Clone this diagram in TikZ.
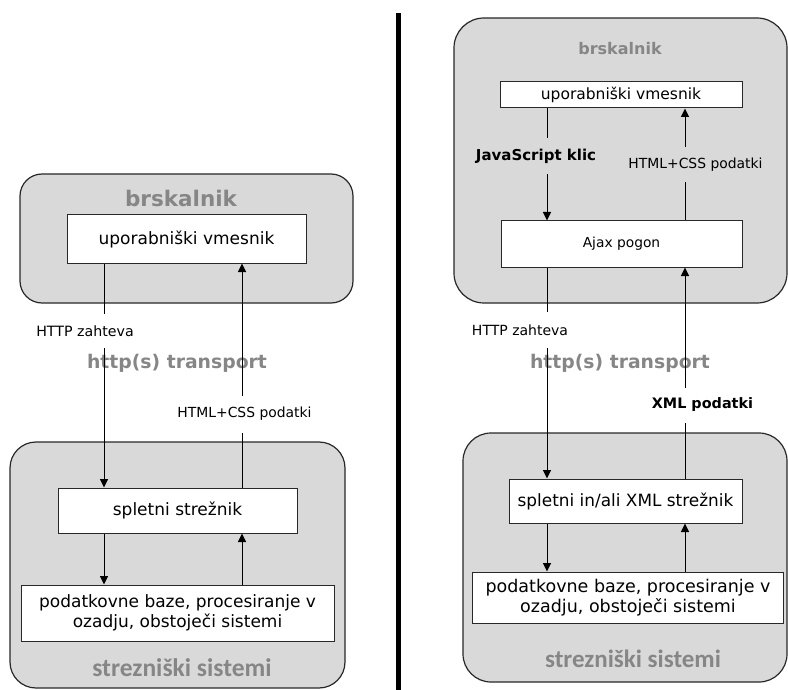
\documentclass[tikz,border=0pt]{standalone}
\usepackage{fontspec}
\setmainfont{DejaVu Sans}
\newfontfamily\carlito{Carlito}
\usetikzlibrary{arrows.meta}
\definecolor{panel}{RGB}{217,217,217}
\definecolor{titlegray}{RGB}{134,134,134}
\definecolor{edge}{RGB}{40,40,40}

\begin{document}
\begin{tikzpicture}[x=1pt,y=-1pt,
  container/.style={draw=edge, line width=1.2pt, fill=panel, rounded corners=#1, inner sep=0pt},
  container/.default=24pt,
  box/.style={draw=edge, line width=1pt, fill=white, inner sep=0pt, align=center},
  flow/.style={draw=black, line width=1pt, -{Triangle[length=8.5pt,width=8pt]}},
  tag/.style={fill=white, inner xsep=2pt, inner ysep=0pt},
  gtag/.style={tag, fill=panel},
  title/.style={text=titlegray, anchor=base, inner sep=0pt},
  fs/.style={font=\fontsize{#1}{#1}\selectfont},
  fb/.style={font=\fontsize{#1}{#1}\selectfont\bfseries},
  fc/.style={font=\fontsize{#1}{#1}\selectfont\carlito\bfseries}
]
\useasboundingbox (0,0) rectangle (788,690);

% separator between the two architectures
\coordinate (divtop) at (398,13);
\coordinate (divbot) at (398,690);
\draw[line width=5pt] (divtop) -- (divbot);

% ---------------- classic web application ----------------
\node[container=22pt, minimum width=333pt, minimum height=129pt] (lbrowser) at (186.5,238.5) {};
\node[container=26pt, minimum width=335pt, minimum height=246pt] (lserver) at (177.5,565) {};

\node[title, fb=21.5] (ltitle) at (181,207) {brskalnik};
\node[title, fb=18.8] (ltransport) at (177,368) {http(s) transport};
\node[title, fc=25.5] (lsys) at (182,676) {strezniški sistemi};

\node[box, fs=17, minimum width=239pt, minimum height=48pt] (lui) at (186.5,239) {uporabniški vmesnik};
\node[box, fs=17, minimum width=239pt, minimum height=45pt] (lweb) at (177.5,510.5) {spletni strežnik};
\node[box, font=\fontsize{17}{20}\selectfont, minimum width=313pt, minimum height=56pt] (ldb) at (177.5,613)
  {podatkovne baze, procesiranje v\\ozadju, obstoječi sistemi};

\coordinate (lxa) at (104,0);
\coordinate (lxb) at (242,0);
\draw[flow] (lui.south -| lxa) -- (lweb.north -| lxa);
\draw[flow] (lweb.south -| lxa) -- (ldb.north -| lxa);
\draw[flow] (ldb.north -| lxb) -- (lweb.south -| lxb);
\draw[flow] (lweb.north -| lxb) -- (lui.south -| lxb);

\node[tag, fs=14.2, minimum height=34pt] (lreq) at (85,331) {HTTP zahteva};
\node[tag, fs=13.9, minimum height=37pt] (lresp) at (244.5,414) {HTML+CSS podatki};

% ---------------- Ajax web application ----------------
\node[container=30pt, minimum width=333pt, minimum height=285pt] (rbrowser) at (620.5,160.5) {};
\node[container=28pt, minimum width=324pt, minimum height=249pt] (rserver) at (625,557.5) {};

\node[title, fb=16] (rtitle) at (620,55) {brskalnik};
\node[title, fb=18.8] (rtransport) at (620,368) {http(s) transport};
\node[title, fc=25] (rsys) at (633,667) {strezniški sistemi};

\node[box, fs=15.5, minimum width=242pt, minimum height=26pt] (rui) at (621,95) {uporabniški vmesnik};
\node[box, fs=13.8, minimum width=241pt, minimum height=46pt] (rajax) at (621.5,244) {Ajax pogon};
\node[box, fs=16.9, minimum width=233pt, minimum height=44pt] (rweb) at (625.5,501) {spletni in/ali XML strežnik};
\node[box, font=\fontsize{17.5}{20}\selectfont, minimum width=311pt, minimum height=51pt] (rdb) at (628,597.5)
  {podatkovne baze, procesiranje v\\ozadju, obstoječi sistemi};

\coordinate (rxa) at (547,0);
\coordinate (rxb) at (685,0);
\draw[flow] (rui.south -| rxa) -- (rajax.north -| rxa);
\draw[flow] (rajax.south -| rxa) -- (rweb.north -| rxa);
\draw[flow] (rweb.south -| rxa) -- (rdb.north -| rxa);
\draw[flow] (rdb.north -| rxb) -- (rweb.south -| rxb);
\draw[flow] (rweb.north -| rxb) -- (rajax.south -| rxb);
\draw[flow] (rajax.north -| rxb) -- (rui.south -| rxb);

\node[gtag, fb=15, minimum height=36pt] (rcall) at (536,156) {JavaScript klic};
\node[gtag, fs=13.9, minimum height=35pt] (rhtml) at (695.5,165) {HTML+CSS podatki};
\node[tag, fs=14, minimum height=36pt] (rreq) at (520,330) {HTTP zahteva};
\node[tag, fb=14.4, minimum height=35pt] (rxml) at (702.5,405) {XML podatki};
\end{tikzpicture}
\end{document}
